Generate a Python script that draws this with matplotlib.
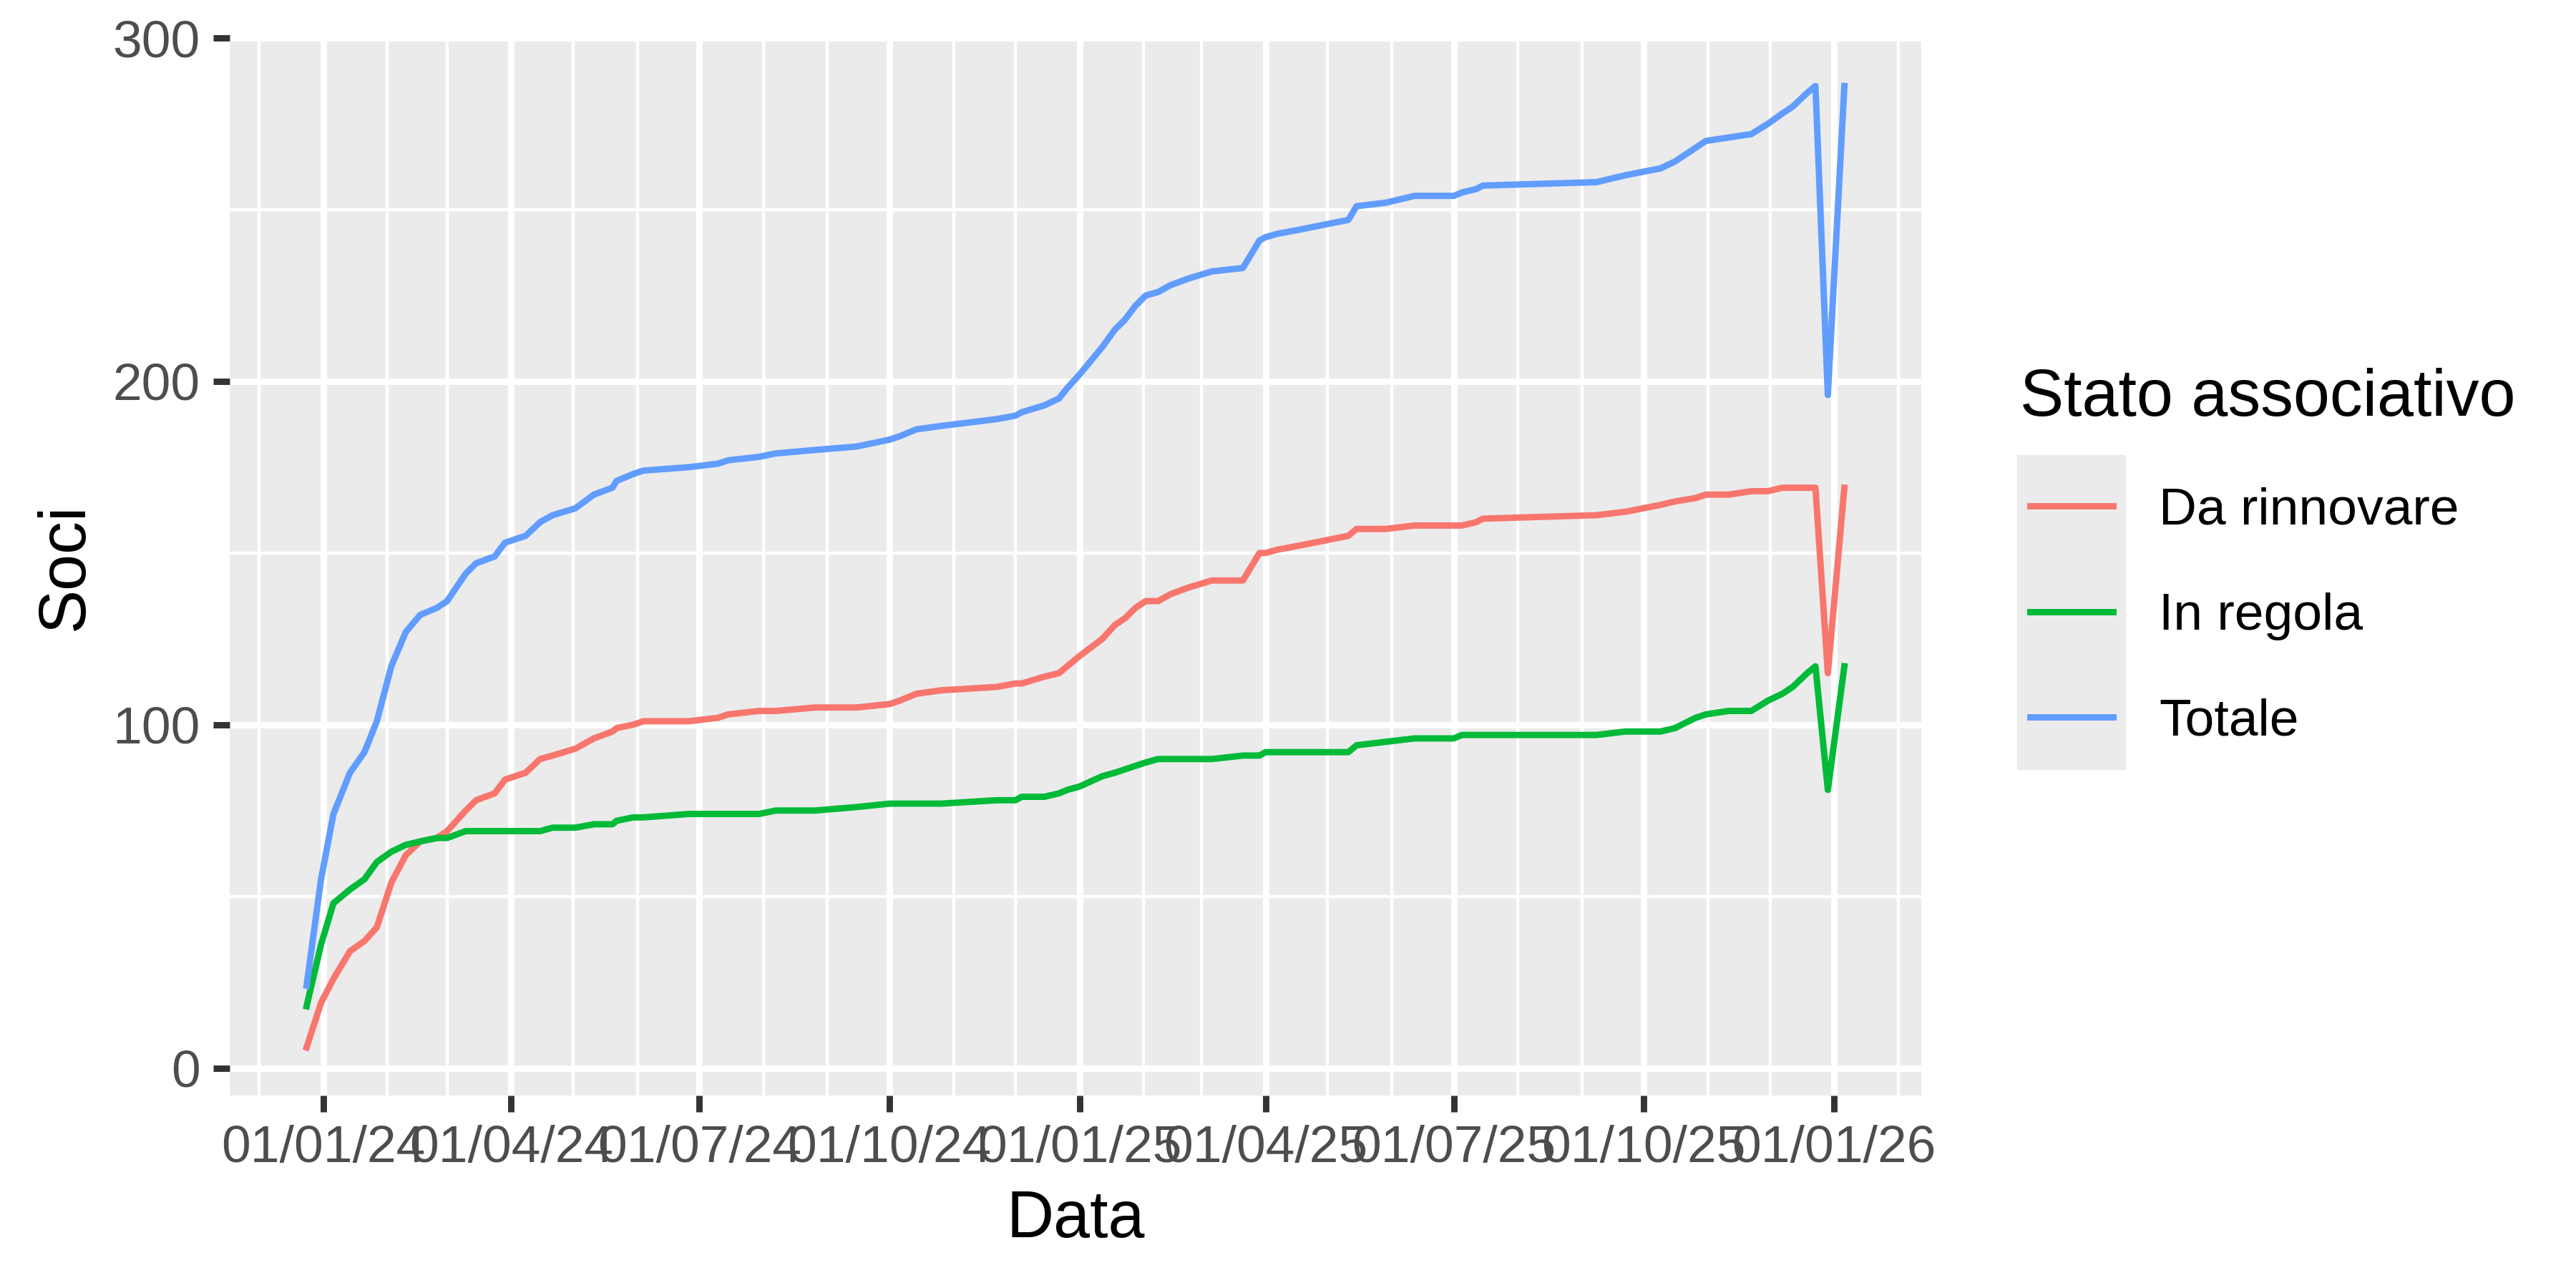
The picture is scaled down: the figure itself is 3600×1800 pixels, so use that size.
import pandas as pd
import matplotlib
matplotlib.use('Agg')
import matplotlib.pyplot as plt
import matplotlib.dates as mdates
from matplotlib.patches import Rectangle
from matplotlib.lines import Line2D
from matplotlib.legend_handler import HandlerLine2D

plt.rcParams['font.family'] = ['Liberation Sans', 'DejaVu Sans']

# data
dates = ['2023-12-24', '2023-12-31', '2024-01-06', '2024-01-14', '2024-01-21', '2024-01-27',
         '2024-02-03', '2024-02-10', '2024-02-17', '2024-02-25', '2024-03-01', '2024-03-10',
         '2024-03-15', '2024-03-24', '2024-03-29', '2024-04-08', '2024-04-15', '2024-04-21',
         '2024-05-02', '2024-05-11', '2024-05-20', '2024-05-22', '2024-05-30', '2024-06-04',
         '2024-06-26', '2024-07-10', '2024-07-15', '2024-07-30', '2024-08-07', '2024-08-26',
         '2024-09-15', '2024-10-01', '2024-10-06', '2024-10-14', '2024-10-26', '2024-11-22',
         '2024-12-01', '2024-12-04', '2024-12-15', '2024-12-22', '2024-12-26', '2025-01-01',
         '2025-01-12', '2025-01-18', '2025-01-23', '2025-01-28', '2025-02-02', '2025-02-08',
         '2025-02-14', '2025-02-23', '2025-03-06', '2025-03-21', '2025-03-22', '2025-03-29',
         '2025-04-01', '2025-04-07', '2025-04-16', '2025-05-11', '2025-05-15', '2025-05-29',
         '2025-06-12', '2025-07-01', '2025-07-05', '2025-07-12', '2025-07-15', '2025-09-08',
         '2025-09-22', '2025-10-09', '2025-10-16', '2025-10-26', '2025-10-31', '2025-11-11',
         '2025-11-22', '2025-11-30', '2025-12-07', '2025-12-12', '2025-12-19', '2025-12-23',
         '2025-12-29', '2026-01-06']

da_rinnovare = [6, 19, 26, 34, 37, 41, 54, 62, 66, 67, 69, 75,
                78, 80, 84, 86, 90, 91, 93, 96, 98, 99, 100, 101,
                101, 102, 103, 104, 104, 105, 105, 106, 107, 109, 110, 111,
                112, 112, 114, 115, 117, 120, 125, 129, 131, 134, 136, 136,
                138, 140, 142, 142, 143, 150, 150, 151, 152, 155, 157, 157,
                158, 158, 158, 159, 160, 161, 162, 164, 165, 166, 167, 167,
                168, 168, 169, 169, 169, 169, 115, 169]

in_regola = [18, 36, 48, 52, 55, 60, 63, 65, 66, 67, 67, 69,
             69, 69, 69, 69, 69, 70, 70, 71, 71, 72, 73, 73,
             74, 74, 74, 74, 75, 75, 76, 77, 77, 77, 77, 78,
             78, 79, 79, 80, 81, 82, 85, 86, 87, 88, 89, 90,
             90, 90, 90, 91, 91, 91, 92, 92, 92, 92, 94, 95,
             96, 96, 97, 97, 97, 97, 98, 98, 99, 102, 103, 104,
             104, 107, 109, 111, 115, 117, 81, 117]

totale = [24, 55, 74, 86, 92, 101, 117, 127, 132, 134, 136, 144,
          147, 149, 153, 155, 159, 161, 163, 167, 169, 171, 173, 174,
          175, 176, 177, 178, 179, 180, 181, 183, 184, 186, 187, 189,
          190, 191, 193, 195, 198, 202, 210, 215, 218, 222, 225, 226,
          228, 230, 232, 233, 234, 241, 242, 243, 244, 247, 251, 252,
          254, 254, 255, 256, 257, 258, 260, 262, 264, 268, 270, 271,
          272, 275, 278, 280, 284, 286, 196, 286]

series = ['Da rinnovare', 'In regola', 'Totale']
colors = ['#F8766D', '#00BA38', '#619CFF']

x = pd.to_datetime(dates)

fig = plt.figure(figsize=(6, 3), dpi=600)
ax = fig.add_axes([321 / 3600, 1 - 1531 / 1800, (2685 - 321) / 3600, (1531 - 53) / 1800])
ax.set_facecolor('#EBEBEB')

for name, vals, c in zip(series, [da_rinnovare, in_regola, totale], colors):
    ax.plot(x, vals, color=c, lw=1.07, label=name, solid_joinstyle='round')

ax.margins(x=0.05, y=0.05)
ax.set_yticks([0, 100, 200, 300])
ax.set_yticks([50, 150, 250], minor=True)
ax.xaxis.set_major_locator(mdates.MonthLocator(bymonth=[1, 4, 7, 10]))
ax.xaxis.set_minor_locator(mdates.MonthLocator())
ax.xaxis.set_major_formatter(mdates.DateFormatter('%d/%m/%y'))

ax.set_axisbelow(True)
ax.grid(which='major', color='white', lw=1.07)
ax.grid(which='minor', color='white', lw=0.53)
for s in ax.spines.values():
    s.set_visible(False)

ax.tick_params(which='major', length=2.75, width=1.07, color='#333333',
               labelsize=8.8, labelcolor='#4D4D4D', pad=2.2)
ax.tick_params(which='minor', length=0)

ax.set_xlabel('Data', fontsize=11, labelpad=2.75)
ax.set_ylabel('Soci', fontsize=11, labelpad=2.75)

# legend in the ggplot style: grey key column, short lines
leg = fig.legend(loc='upper left', bbox_to_anchor=(2823 / 3600, 1 - 514 / 1800),
                 frameon=False, title='Stato associativo', title_fontsize=11,
                 fontsize=8.8, handlelength=1.964, handletextpad=0.68,
                 labelspacing=1.1, borderpad=0, borderaxespad=0, alignment='left',
                 handler_map={Line2D: HandlerLine2D(marker_pad=0.19, numpoints=2)})
for h in leg.legend_handles:
    h.set_linewidth(1.07)
fig.add_artist(Rectangle((2823 / 3600, 1 - 1072 / 1800), 144 / 3600, 432 / 1800,
                         transform=fig.transFigure, color='#EBEBEB', zorder=0))

fig.savefig('out.png', dpi=600)
plt.close()
